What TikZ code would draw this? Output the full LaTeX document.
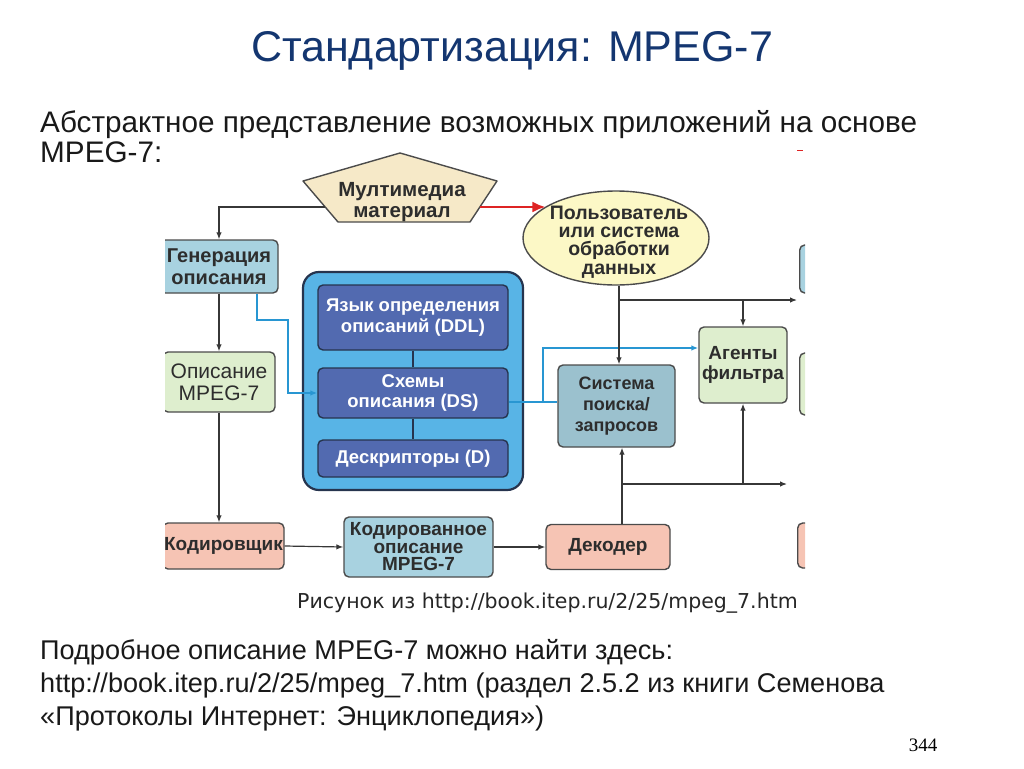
\documentclass[tikz,border=0pt]{standalone}
\usepackage{fontspec}
\setmainfont{Liberation Sans}
\newfontfamily\capfont{DejaVu Sans}
\newfontfamily\pagefont{Liberation Serif}
\usepackage{xcolor}
\definecolor{ColTitle}{RGB}{20,54,112}
\definecolor{ColText}{RGB}{45,45,45}
\definecolor{ColLine}{RGB}{75,75,75}
\definecolor{ColWire}{RGB}{55,55,55}
\definecolor{ColBlue}{RGB}{40,150,210}
\definecolor{ColRed}{RGB}{222,36,36}
\definecolor{ColSand}{RGB}{246,233,200}
\definecolor{ColYellow}{RGB}{252,248,198}
\definecolor{ColCyan}{RGB}{168,210,224}
\definecolor{ColGreen}{RGB}{222,238,206}
\definecolor{ColSalmon}{RGB}{246,196,180}
\definecolor{ColSky}{RGB}{88,180,230}
\definecolor{ColNavy}{RGB}{38,52,78}
\definecolor{ColInner}{RGB}{82,106,176}
\usepackage{tikz}
\usetikzlibrary{shapes.geometric}
\usetikzlibrary{arrows.meta}
\tikzstyle{Title}=[font=\fontsize{43}{43}\selectfont,text=ColTitle,inner sep=0pt]
\tikzstyle{Body}=[font=\fontsize{29.7}{30}\selectfont,text=black!90,inner sep=0pt]
\tikzstyle{Note}=[font=\fontsize{27.1}{30}\selectfont,text=black!90,inner sep=0pt]
\tikzstyle{Caption}=[font=\capfont\fontsize{20.5}{20}\selectfont,text=black!85,inner sep=0pt]
\tikzstyle{Box}=[rectangle,rounded corners=5pt,draw=ColLine,line width=1.4pt,
inner sep=0pt,align=center,text=ColText,font=\bfseries\fontsize{19}{19}\selectfont]
\tikzstyle{Inner}=[Box,fill=ColInner,draw=ColNavy,text=white,
font=\bfseries\fontsize{18.5}{21}\selectfont]
\tikzstyle{Wire}=[draw=ColWire,line width=1.2pt,-{Latex[length=7pt,width=5.5pt]}]
\tikzstyle{Link}=[draw=ColWire,line width=1.2pt]
\tikzstyle{BlueWire}=[draw=ColBlue,line width=1.4pt,-{Latex[length=7pt,width=5.5pt]}]
\tikzstyle{BlueLink}=[draw=ColBlue,line width=1.4pt]

\begin{document}
\begin{tikzpicture}[x=1pt,y=-1pt]
\useasboundingbox(0,0)rectangle(1024,768);
\node[Title,anchor=base](title)at(512,62){Стандартизация: MPEG-7};
\node[Body,anchor=base west](intro1)at(40,132)
    {Абстрактное представление возможных приложений на основе};
\node[Body,anchor=base west](intro2)at(40,162){MPEG-7:};
%
\begin{scope}
\clip(165,147)rectangle(805,580);
\draw[ColRed,line width=1pt](797,150)--(803,150);
% source and user
\coordinate(p1)at(400,153);
\coordinate(p2)at(497,181);
\coordinate(p3)at(470,222);
\coordinate(p4)at(338,222);
\coordinate(p5)at(303,181);
\draw[draw=ColLine,fill=ColSand,line width=1.4pt,line join=round]
    (p1)--(p2)--(p3)--(p4)--(p5)--cycle;
\node[align=center,text=ColText,font=\bfseries\fontsize{20.5}{21}\selectfont]
    (media)at(402,202){Мултимедиа\\материал};
\coordinate(pl)at(325,207);
\coordinate(pr)at(480,207);
\node[ellipse,draw=ColLine,fill=ColYellow,line width=1.4pt,inner sep=0pt,
    minimum width=186pt,minimum height=94pt](user)at(616,238){};
\node[align=center,text=ColText,inner sep=0pt,
    font=\bfseries\fontsize{19.5}{18.3}\selectfont](userlabel)at(619,242)
    {Пользователь\\или система\\обработки\\данных};
% left column
\node[Box,fill=ColCyan,minimum width=118pt,minimum height=53pt,
    font=\bfseries\fontsize{20}{22}\selectfont](gen)at(219,266.5)
    {Генерация\\описания};
\node[Box,fill=ColGreen,minimum width=112pt,minimum height=60pt,
    font=\fontsize{21}{22}\selectfont](descr)at(219,382){Описание\\MPEG-7};
\node[Box,fill=ColSalmon,minimum width=121pt,minimum height=46pt]
    (coder)at(223.5,546){Кодировщик};
\node[Box,fill=ColCyan,minimum width=149pt,minimum height=60pt,
    font=\bfseries\fontsize{19}{17.5}\selectfont](coded)at(418.5,547)
    {Кодированное\\описание\\MPEG-7};
\node[Box,fill=ColSalmon,minimum width=124pt,minimum height=45pt]
    (decoder)at(608,547){Декодер};
% MPEG-7 block
\node[rectangle,rounded corners=16pt,draw=ColNavy,fill=ColSky,line width=2.2pt,
    minimum width=220pt,minimum height=218pt](block)at(413,381){};
\node[Inner,minimum width=190pt,minimum height=65pt](ddl)at(413,317.5)
    {Язык определения\\описаний (DDL)};
\node[Inner,minimum width=190pt,minimum height=50pt,
    font=\bfseries\fontsize{18.5}{20}\selectfont](ds)at(413,393)
    {Схемы\\описания (DS)};
\node[Inner,minimum width=190pt,minimum height=37pt](dsc)at(413,458.5)
    {Дескрипторы (D)};
\draw[draw=ColNavy,line width=1.4pt](ddl.south)--(ds.north);
\draw[draw=ColNavy,line width=1.4pt](ds.south)--(dsc.north);
% right column
\node[Box,fill=ColCyan!92!black,minimum width=117pt,minimum height=82pt,
    font=\bfseries\fontsize{18}{21}\selectfont](search)at(616.5,406)
    {Система\\поиска/\\запросов};
\node[Box,fill=ColGreen,minimum width=88pt,minimum height=76pt,
    font=\bfseries\fontsize{19}{20}\selectfont](agent)at(743,365)
    {Агенты\\фильтра};
\node[Box,fill=ColCyan,minimum width=60pt,minimum height=48pt,anchor=west]
    (app1)at(799,269){};
\node[Box,fill=ColGreen,minimum width=60pt,minimum height=62pt,anchor=west]
    (app2)at(799,384){};
\node[Box,fill=ColSalmon,minimum width=60pt,minimum height=45pt,anchor=west]
    (app3)at(797,545.5){};
% connectors
\coordinate(jt)at(619,300);
\coordinate(et)at(797,300);
\coordinate(jb)at(622,484);
\coordinate(eb)at(787,484);
\coordinate(bj)at(543,402);
\coordinate(ba)at(697,348);
\draw[Wire](pl)-|(gen.north);
\draw[draw=ColRed,line width=2.6pt,-{Latex[length=13pt,width=11pt]}](pr)--(pr-|user.156);
\draw[Wire](gen.south)--(descr.north);
\draw[Wire](descr.south)--(descr.south|-coder.north);
\draw[Wire](coder.east)--(coded.west);
\draw[Wire](coded.east)--(decoder.west);
\draw[BlueWire](gen.south-|257,0)|-(288,320)|-(ds.west);
\draw[BlueLink](ds.east|-bj)--(search.west|-bj);
\draw[BlueWire](bj)|-(agent.west|-ba);
\draw[Wire](jt|-user.south)--(search.north-|jt);
\draw[Wire](jt)--(et);
\draw[Wire](agent.north|-jt)--(agent.north);
\draw[Wire](decoder.north-|jb)--(search.south-|jb);
\draw[Wire](jb)--(eb);
\draw[Wire](agent.south|-jb)--(agent.south);
\end{scope}
%
\node[Caption,anchor=base west](source)at(297,608)
    {Рисунок из http://book.itep.ru/2/25/mpeg\_7.htm};
\node[Note,anchor=base west](more1)at(40,659){Подробное описание MPEG-7 можно найти здесь:};
\node[Note,anchor=base west](more2)at(40,692)
    {http://book.itep.ru/2/25/mpeg\_7.htm (раздел 2.5.2 из книги Семенова};
\node[Note,anchor=base west](more3)at(40,725){«Протоколы Интернет: Энциклопедия»)};
\node[font=\pagefont\fontsize{19}{19}\selectfont,anchor=base,inner sep=0pt]
    (page)at(923,751){344};
\end{tikzpicture}
\end{document}
